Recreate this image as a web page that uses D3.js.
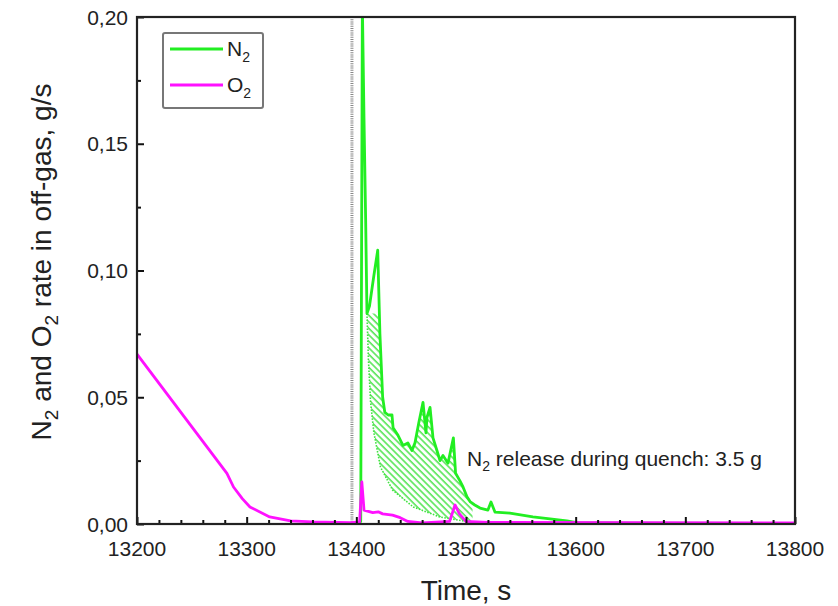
<!DOCTYPE html>
<html>
<head>
<meta charset="utf-8">
<script src="https://cdn.jsdelivr.net/npm/d3@7"></script>
<style>
  body{margin:0;background:#fff;}
  svg{font-family:"Liberation Sans",Arial,sans-serif;}
</style>
</head>
<body>
<svg id="chart" width="838" height="606"></svg>
<script>
// N2 off-gas rate, [time s, g/s]
var n2Data = [
  [13400,0.000],[13404,0.001],[13405.5,0.205],[13407,0.160],[13408.5,0.120],[13409.7,0.083],
  [13412,0.086],[13416,0.098],[13419.5,0.108],[13421.5,0.075],[13424,0.050],[13426,0.044],
  [13429,0.043],[13432.5,0.043],[13433.5,0.038],[13438,0.035],[13442.5,0.031],[13447,0.032],
  [13450.7,0.029],[13453.5,0.032],[13457,0.040],[13460.8,0.048],[13463.5,0.036],[13464.4,0.042],
  [13467.2,0.046],[13469.9,0.034],[13473.5,0.029],[13476.3,0.025],[13479,0.027],[13483.6,0.024],
  [13488.5,0.034],[13490.5,0.020],[13494.5,0.017],[13497.3,0.0146],[13500.9,0.0107],[13504,0.0087],
  [13508,0.0075],[13512.8,0.0063],[13520,0.0055],[13522.8,0.0087],[13526.4,0.0047],[13540,0.0043],
  [13561,0.0028],[13576.6,0.0020],[13592,0.0012],[13601,0.0005],[13650,0.0003],[13800,0.0002]
];
// O2 off-gas rate
var o2Data = [
  [13200,0.067],[13282,0.020],[13288,0.0146],[13296,0.010],[13303,0.0067],[13321,0.0028],
  [13340,0.0012],[13360,0.0008],[13395,0.0005],[13403,0.0008],[13405,0.0166],[13407,0.0055],
  [13415,0.0045],[13420,0.0048],[13424,0.0040],[13433,0.0035],[13440,0.0025],[13447,0.0010],
  [13460,0.0004],[13485,0.0010],[13490,0.0075],[13494,0.0040],[13500,0.0010],[13520,0.0006],
  [13800,0.0004]
];
// lower edge of the hatched N2 release area
var releaseBase = [
  [13409.7,0.083],[13411,0.065],[13413,0.048],[13416,0.036],[13422,0.0225],[13433,0.0134],
  [13452,0.0067],[13476,0.0028],[13500,0.0010],[13506,0.0008]
];
var releaseCap = 0.083;
var quenchStart = 13396;

var xTicks = [13200,13300,13400,13500,13600,13700,13800];
var yTicks = [0,0.05,0.10,0.15,0.20];
var yTickLabels = ["0,00","0,05","0,10","0,15","0,20"];

!function(){
var svg = d3.select("#chart");
var pL=137,pR=795,pT=17,pB=524;

var x = d3.scaleLinear().domain([13200,13800]).range([pL,pR]);
var y = d3.scaleLinear().domain([0,0.20]).range([pB,pT]);

var defs = svg.append("defs");
defs.append("clipPath").attr("id","plotClip")
  .append("rect").attr("x",pL).attr("y",pT).attr("width",pR-pL).attr("height",pB-pT);
var pat = defs.append("pattern").attr("id","hatch")
  .attr("patternUnits","userSpaceOnUse").attr("width",4.6).attr("height",4.6)
  .attr("patternTransform","rotate(-45)");
pat.append("line").attr("x1",1).attr("y1",0).attr("x2",1).attr("y2",4.6)
  .attr("stroke","#3fe23f").attr("stroke-width",1.4);

var line = d3.line().x(function(d){return x(d[0]);}).y(function(d){return y(d[1]);});

var plot = svg.append("g").attr("clip-path","url(#plotClip)");

// hatched area: N2 curve (capped) down to the base curve
var upper = n2Data.filter(function(d){return d[0]>=13409.7 && d[0]<=13506;})
  .map(function(d){return [d[0],Math.min(d[1],releaseCap)];});
upper.push([13506,0.0085]);
var poly = upper.concat(releaseBase.slice().reverse());
plot.append("path").attr("d",line(poly)+"Z")
  .attr("fill","url(#hatch)").attr("stroke","none");
plot.append("path").attr("d",line(releaseBase))
  .attr("fill","none").attr("stroke","#3fe23f").attr("stroke-width",1.6)
  .attr("stroke-dasharray","1.5,1.5");

// quench start marker
plot.append("line")
  .attr("x1",x(quenchStart)).attr("x2",x(quenchStart)).attr("y1",pB).attr("y2",pT)
  .attr("stroke","#888").attr("stroke-width",3).attr("stroke-dasharray","1,1.2");

plot.append("path").datum(n2Data).attr("d",line)
  .attr("fill","none").attr("stroke","#22ee22").attr("stroke-width",2.8)
  .attr("stroke-linejoin","round");
plot.append("path").datum(o2Data).attr("d",line)
  .attr("fill","none").attr("stroke","#ff11ff").attr("stroke-width",2.8)
  .attr("stroke-linejoin","round");

// axes, ticks pointing inward
var xAxis = d3.axisBottom(x).tickValues(d3.range(13200,13801,20)).tickSize(-4).tickFormat("");
var gx = svg.append("g").attr("transform","translate(0,"+pB+")").call(xAxis);
gx.selectAll(".tick line").filter(function(d){return d%100===0;}).attr("y2",-7);
var yAxis = d3.axisLeft(y).tickValues(d3.range(0,0.2001,0.025)).tickSize(-4).tickFormat("");
var gy = svg.append("g").attr("transform","translate("+pL+",0)").call(yAxis);
gy.selectAll(".tick line").filter(function(d,i){return i%2===0;}).attr("x2",7);
svg.selectAll(".domain").remove();
svg.selectAll(".tick line").attr("stroke","#111").attr("stroke-width",2);

svg.append("rect").attr("x",pL).attr("y",pT).attr("width",pR-pL).attr("height",pB-pT)
  .attr("fill","none").attr("stroke","#222").attr("stroke-width",2.2);

svg.append("g").selectAll("text").data(xTicks).enter().append("text")
  .attr("x",function(d){return x(d);}).attr("y",556)
  .attr("text-anchor","middle").attr("font-size",21).attr("fill","#222")
  .text(function(d){return d;});
svg.append("g").selectAll("text").data(yTicks).enter().append("text")
  .attr("x",128).attr("y",function(d){return y(d)+7.5;})
  .attr("text-anchor","end").attr("font-size",21).attr("fill","#222")
  .text(function(d,i){return yTickLabels[i];});

// axis titles
svg.append("text").attr("x",466).attr("y",600).attr("text-anchor","middle")
  .attr("font-size",28).attr("fill","#222").text("Time, s");
var yt = svg.append("text").attr("transform","translate(51,262) rotate(-90)")
  .attr("text-anchor","middle").attr("font-size",28).attr("fill","#222");
yt.append("tspan").text("N");
yt.append("tspan").attr("font-size",19).attr("dy",7).text("2");
yt.append("tspan").attr("dy",-7).text(" and O");
yt.append("tspan").attr("font-size",19).attr("dy",7).text("2");
yt.append("tspan").attr("dy",-7).text(" rate in off-gas, g/s");

// annotation
var ann = svg.append("text").attr("x",467).attr("y",466).attr("font-size",21).attr("fill","#222");
ann.append("tspan").text("N");
ann.append("tspan").attr("font-size",14).attr("dy",5).text("2");
ann.append("tspan").attr("dy",-5).text(" release during quench: 3.5 g");

// legend
var legendItems = ["N","O"];
var legendColors = ["#22ee22","#ff11ff"];
var lg = svg.append("g");
lg.append("rect").attr("x",163).attr("y",33).attr("width",100).attr("height",75)
  .attr("fill","#fff").attr("stroke","#777").attr("stroke-width",2).attr("rx",2);
legendItems.forEach(function(n,i){
  var ly = 49+i*36;
  lg.append("line").attr("x1",170).attr("x2",223).attr("y1",ly).attr("y2",ly)
    .attr("stroke",legendColors[i]).attr("stroke-width",3);
  var t = lg.append("text").attr("x",227).attr("y",ly+7).attr("font-size",21).attr("fill","#222");
  t.append("tspan").text(n);
  t.append("tspan").attr("font-size",14).attr("dy",6).text("2");
});
}();
</script>
</body>
</html>
